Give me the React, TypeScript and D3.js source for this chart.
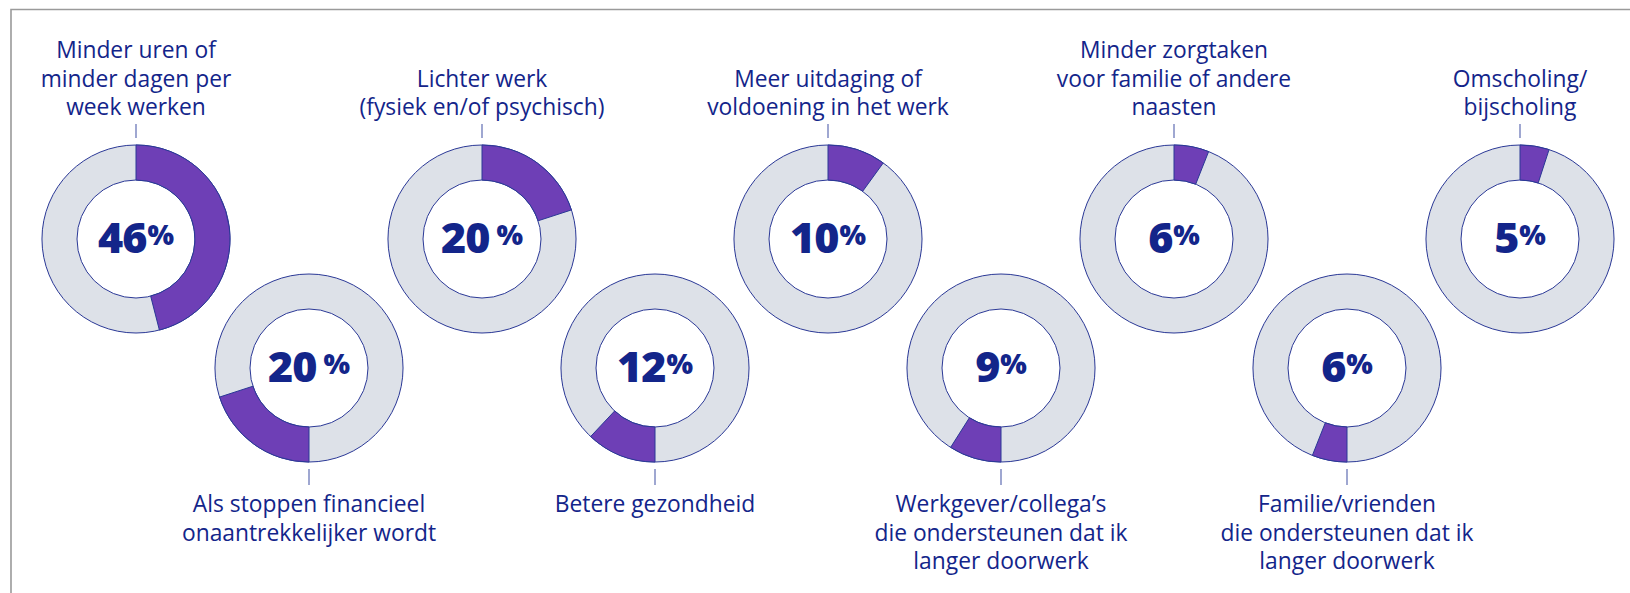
import React from "react";
import * as d3 from "d3";

const values = [46, 20, 20, 12, 10, 9, 6, 6, 5];
const gaps = [0, 6, 6, 0, 0, 0, 0, 0, 0];
const rows = ["top", "bottom", "top", "bottom", "top", "bottom", "top", "bottom", "top"];
const labels: string[][] = [
  ["Minder uren of", "minder dagen per", "week werken"],
  ["Als stoppen financieel", "onaantrekkelijker wordt"],
  ["Lichter werk", "(fysiek en/of psychisch)"],
  ["Betere gezondheid"],
  ["Meer uitdaging of", "voldoening in het werk"],
  ["Werkgever/collega’s", "die ondersteunen dat ik", "langer doorwerk"],
  ["Minder zorgtaken", "voor familie of andere", "naasten"],
  ["Familie/vrienden", "die ondersteunen dat ik", "langer doorwerk"],
  ["Omscholing/", "bijscholing"],
];

const W = 1630;
const H = 593;
const NAVY = "#13258a";
const PURPLE = "#6e3fb6";
const GREY = "#dde1e8";
const OUTLINE = "#2a3896";
const TICK = "#7f8ac2";
const FONT = "'Open Sans', sans-serif";

export default function App() {
  const x = d3.scaleLinear().domain([0, 8]).range([136, 1520]);
  const yRow = (r: string) => (r === "top" ? 239 : 368);
  const rOuter = 94;
  const rInner = 59;
  const arc = d3.arc<any>().innerRadius(rInner).outerRadius(rOuter);
  const lineH = 28.5;

  return (
    <svg
      width={W}
      height={H}
      style={{ position: "absolute", left: 0, top: 0, background: "#fff" }}
      fontFamily={FONT}
    >
      <rect x={0} y={0} width={W} height={H} fill="#fff" />
      <path d={`M11,${H + 5} L11,9.5 L${W + 5},9.5`} fill="none" stroke="#9a9a9a" strokeWidth={1.6} />
      {values.map((v, i) => {
        const cx = x(i);
        const cy = yRow(rows[i]);
        const top = rows[i] === "top";
        const start = top ? 0 : Math.PI;
        const end = start + (v / 100) * 2 * Math.PI;
        const lines = labels[i];
        return (
          <g key={i}>
            <g transform={`translate(${cx},${cy})`}>
              <path
                d={arc({ startAngle: 0, endAngle: 2 * Math.PI }) as string}
                fill={GREY}
                stroke={OUTLINE}
                strokeWidth={1}
              />
              <path
                d={arc({ startAngle: start, endAngle: end }) as string}
                fill={PURPLE}
                stroke={OUTLINE}
                strokeWidth={1}
              />
              <text textAnchor="middle" y={14} fill={NAVY} fontWeight={800}>
                <tspan fontSize={43} letterSpacing={-1}>{v}</tspan>
                <tspan fontSize={28} dy={-8} dx={gaps[i] + 1}>%</tspan>
              </text>
            </g>
            {top ? (
              <line x1={cx} x2={cx} y1={124} y2={138} stroke={TICK} strokeWidth={1.5} />
            ) : (
              <line x1={cx} x2={cx} y1={469} y2={485} stroke={TICK} strokeWidth={1.5} />
            )}
            <text textAnchor="middle" fill={NAVY} fontSize={22.8}>
              {lines.map((l, j) => {
                const yy = top
                  ? 115 - (lines.length - 1 - j) * lineH
                  : 512 + j * lineH;
                return (
                  <tspan key={j} x={cx} y={yy}>
                    {l}
                  </tspan>
                );
              })}
            </text>
          </g>
        );
      })}
    </svg>
  );
}
